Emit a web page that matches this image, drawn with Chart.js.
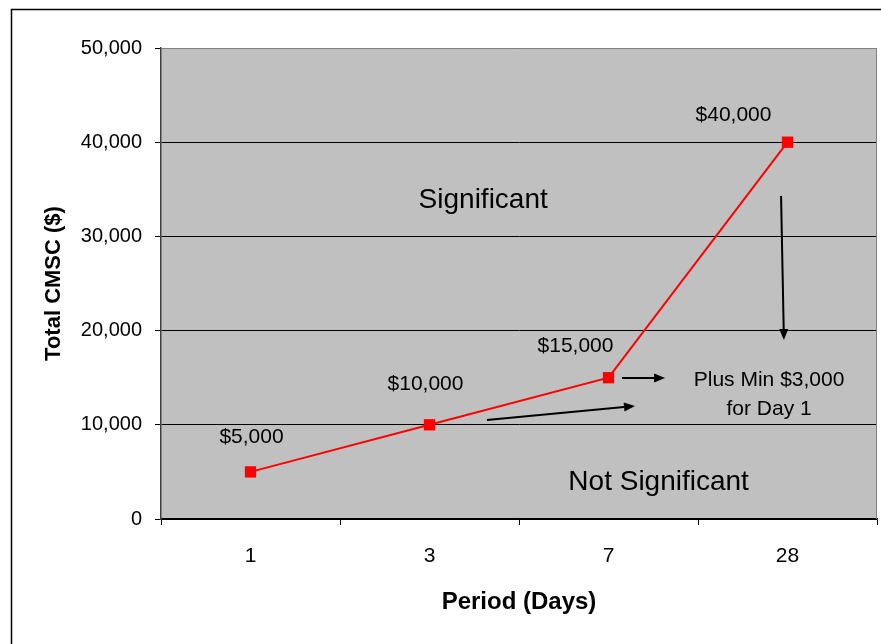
<!DOCTYPE html>
<html>
<head>
<meta charset="utf-8">
<script src="https://cdn.jsdelivr.net/npm/chart.js@4.4.1/dist/chart.umd.min.js"></script>
<style>
  html, body { margin: 0; padding: 0; background: #fff; }
</style>
</head>
<body>
<canvas id="cmscChart" width="881" height="644"></canvas>
<script>
const periods = ['1', '3', '7', '28'];
const cmscTotals = [5000, 10000, 15000, 40000];
const yMin = 0, yMax = 50000, yStep = 10000;

// notes on the plot, placed in data space: [category index, value]
const noteTexts = [
    { text: 'Significant', at: [1.30, 33800], size: 28 },
    { text: 'Not Significant', at: [2.28, 3900], size: 28 },
    { text: 'Plus Min $3,000', at: [2.897, 14760], size: 21 },
    { text: 'for Day 1', at: [2.897, 11680], size: 21 }
];
const noteArrows = [
    [[2.075, 14970], [2.316, 14970]],
    [[1.321, 10510], [2.148, 12000]],
    [[2.964, 34290], [2.980, 19000]]
];
// point labels sit above/left of each point (pixels)
const labelOffsets = [[1, -35], [-4, -41], [-33, -31], [-54, -27]];

const FONT = "'Liberation Sans', Arial, sans-serif";

const fmt = v => v.toLocaleString('en-US');

const framePlugin = {
    id: 'frame',
    beforeDraw(chart) {
        const { ctx, chartArea: a } = chart;
        ctx.save();
        ctx.fillStyle = '#fff';
        ctx.fillRect(0, 0, chart.width, chart.height);
        // outer box (only top and left show)
        ctx.strokeStyle = '#000';
        ctx.lineWidth = 1.5;
        ctx.beginPath();
        ctx.moveTo(chart.width, 9.5);
        ctx.lineTo(11.5, 9.5);
        ctx.lineTo(11.5, chart.height);
        ctx.stroke();
        // plot background
        ctx.fillStyle = '#C0C0C0';
        ctx.fillRect(a.left, a.top, a.right - a.left, a.bottom - a.top);
        ctx.restore();
    },
    beforeDatasetsDraw(chart) {
        const { ctx, chartArea: a } = chart;
        ctx.save();
        ctx.strokeStyle = '#808080';
        ctx.lineWidth = 1;
        ctx.beginPath();
        ctx.moveTo(a.right - 0.5, a.top);
        ctx.lineTo(a.right - 0.5, a.bottom);
        ctx.stroke();
        ctx.restore();
    }
};

const notesPlugin = {
    id: 'notes',
    afterDatasetsDraw(chart) {
        const { ctx } = chart;
        const xs = chart.scales.x, ys = chart.scales.y;
        const px = p => [xs.getPixelForValue(p[0]), ys.getPixelForValue(p[1])];
        ctx.save();
        ctx.fillStyle = '#000';
        ctx.textAlign = 'center';
        ctx.textBaseline = 'middle';

        // point value labels
        ctx.font = '21px ' + FONT;
        const meta = chart.getDatasetMeta(0);
        meta.data.forEach((pt, i) => {
            ctx.fillText('$' + fmt(cmscTotals[i]), pt.x + labelOffsets[i][0], pt.y + labelOffsets[i][1]);
        });

        noteTexts.forEach(n => {
            const [x, y] = px(n.at);
            ctx.font = n.size + 'px ' + FONT;
            ctx.fillText(n.text, x, y);
        });

        ctx.strokeStyle = '#000';
        ctx.lineWidth = 2;
        noteArrows.forEach(([from, to]) => {
            const [x0, y0] = px(from), [x1, y1] = px(to);
            const ang = Math.atan2(y1 - y0, x1 - x0);
            const head = 11, half = 4.5;
            const bx = x1 - head * Math.cos(ang), by = y1 - head * Math.sin(ang);
            ctx.beginPath();
            ctx.moveTo(x0, y0);
            ctx.lineTo(bx, by);
            ctx.stroke();
            ctx.beginPath();
            ctx.moveTo(x1, y1);
            ctx.lineTo(bx + half * Math.sin(ang), by - half * Math.cos(ang));
            ctx.lineTo(bx - half * Math.sin(ang), by + half * Math.cos(ang));
            ctx.closePath();
            ctx.fill();
        });
        ctx.restore();
    }
};

new Chart('cmscChart', {
    type: 'line',
    data: {
        labels: periods,
        datasets: [{
            data: cmscTotals,
            borderColor: '#FF0000',
            borderWidth: 2,
            tension: 0,
            pointStyle: 'rect',
            pointRadius: 8,
            pointBackgroundColor: '#FF0000',
            pointBorderWidth: 0
        }]
    },
    options: {
        responsive: false,
        animation: false,
        events: [],
        layout: { autoPadding: false, padding: { top: 48, right: 4, left: 0, bottom: 0 } },
        plugins: { legend: { display: false }, tooltip: { enabled: false } },
        scales: {
            x: {
                type: 'category',
                offset: true,
                afterFit: s => { s.height = 125; s.paddingLeft = 0; s.paddingRight = 0; },
                grid: { offset: true, drawOnChartArea: false, tickLength: 6, tickColor: '#000' },
                border: { color: '#000', width: 1.5 },
                ticks: { color: '#000', font: { family: FONT, size: 21 }, padding: 19 },
                title: {
                    display: true, text: 'Period (Days)', color: '#000',
                    font: { family: FONT, size: 24, weight: 'bold' },
                    padding: { top: 0, bottom: 27 }
                }
            },
            y: {
                min: yMin, max: yMax,
                afterFit: s => { s.width = 161; },
                grid: {
                    color: c => (c.tick && c.tick.value === yMax) ? '#808080' : '#000',
                    tickColor: '#000', tickLength: 6, lineWidth: 1
                },
                border: { color: '#404040', width: 1.5 },
                ticks: {
                    stepSize: yStep, color: '#000', padding: 13,
                    font: { family: FONT, size: 20 },
                    callback: v => fmt(v)
                },
                title: {
                    display: true, text: 'Total CMSC ($)', color: '#000',
                    font: { family: FONT, size: 22, weight: 'bold' },
                    padding: { top: 41, bottom: 0 }
                }
            }
        }
    },
    plugins: [framePlugin, notesPlugin]
});
</script>
</body>
</html>
